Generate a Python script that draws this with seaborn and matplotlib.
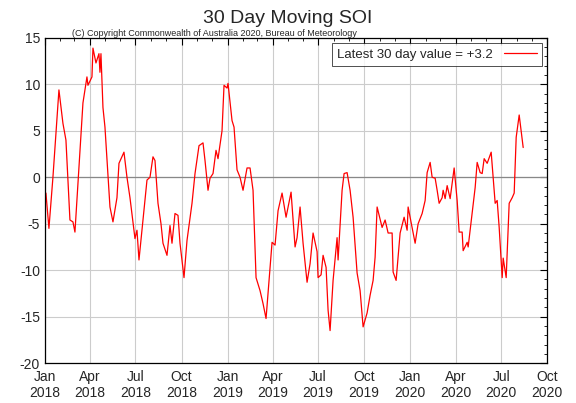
import matplotlib
matplotlib.use("Agg")
import matplotlib.pyplot as plt
import matplotlib.dates as mdates
from matplotlib.ticker import MultipleLocator
import seaborn as sns
import pandas as pd

# day offsets since 2018-01-01 and 30-day SOI values
day_offsets = [2, 8, 16, 28, 36, 42, 50, 56, 60, 70, 76, 84, 86, 94, 96, 102, 108, 110, 112, 116, 120,
               130, 136, 144, 148, 158, 164, 170, 180, 184, 188, 196, 204, 210, 216, 220, 226, 232, 236,
               244, 250, 254, 260, 266, 270, 278, 284, 294, 300, 308,
               316, 320, 326, 330, 336, 342, 346, 354, 358, 364, 366, 374, 378, 384, 390, 396, 404, 410,
               416, 422, 430, 436, 442, 446, 454, 460, 466, 474, 482, 492, 500, 504, 510, 516, 524, 530,
               536, 544, 546, 552, 556, 562, 566, 570, 576, 584, 586, 594, 598, 604, 610, 616, 624, 630,
               636, 644,
               650, 656, 660, 664, 674, 680, 686, 694, 696, 702, 710, 718, 724, 726, 734, 740, 746, 754,
               760, 764, 770, 774, 780, 784, 788, 794, 796, 800, 804, 810, 816, 818, 824, 828, 834, 836,
               844, 846, 854, 860, 864, 870, 874, 878, 884, 886, 892, 896, 900, 904, 908, 914, 916, 922,
               924, 928, 934, 938, 942, 948, 954, 956]
soi_values = [-1.7, -5.5, 0, 9.4, 5.8, 4, -4.6, -4.8, -5.9, 2.9, 8, 10.8, 9.9, 10.8, 13.9, 12.3, 13.3, 11.3, 13.3, 7.5, 5.4,
              -3.2, -4.8, -2.2, 1.5, 2.7, 0, -2.2, -6.6, -5.7, -8.9, -4.6, -0.3, 0, 2.2, 1.8, -2.8, -5, -7.1,
              -8.4, -5.2, -7.1, -3.9, -4.1, -7.1, -10.8, -6.8, -2.8, 0.4, 3.4,
              3.7, 1.8, -1.4, -0.1, 0.4, 2.9, 2, 5, 9.9, 9.6, 10.1, 6.1, 5.4, 0.8, 0, -1.4, 1, 1,
              -1.4, -10.8, -12.2, -13.6, -15.2, -12.5, -7, -7.3, -3.6, -1.7, -4.3, -1.6, -7.5, -6.5, -3.2, -7.1, -11.3, -9.3,
              -6, -8, -10.8, -10.5, -8.4, -9.7, -14.3, -16.5, -11.1, -6.5, -8.9, -1.4, 0.4, 0.5, -1.4, -4.3, -10.3, -12.2,
              -16.1, -14.6,
              -12.7, -11.1, -8.6, -3.2, -5.4, -4.6, -6, -6, -10.2, -11.1, -6, -4.3, -5.7, -3.2, -5.4, -7.1, -5, -3.9,
              -2.5, 0.5, 1.6, 0, -0.1, -1.4, -2.8, -2.2, -1.4, -2.3, -0.9, -2.3, 0.2, 1, -2.5, -5.9, -5.9, -7.9,
              -7, -7.5, -3.9, -1.1, 1.6, 0.5, 0.4, 2, 1.5, 1.8, 2.7, 0, -2.8, -2.5, -5.4, -10.8, -8.7, -10.8,
              -8.2, -2.8, -2.2, -1.7, 4.3, 6.7, 4, 3.2]
tick_dates = ["2018-01-01", "2018-04-01", "2018-07-01", "2018-10-01", "2019-01-01", "2019-04-01",
              "2019-07-01", "2019-10-01", "2020-01-01", "2020-04-01", "2020-07-01", "2020-10-01"]
tick_labels = ["Jan\n2018", "Apr\n2018", "Jul\n2018", "Oct\n2018", "Jan\n2019", "Apr\n2019",
               "Jul\n2019", "Oct\n2019", "Jan\n2020", "Apr\n2020", "Jul\n2020", "Oct\n2020"]

df = pd.DataFrame({"date": pd.Timestamp("2018-01-01") + pd.to_timedelta(day_offsets, unit="D"),
                   "soi": soi_values})

sns.set_style("white")
plt.rcParams['font.family'] = ['Liberation Sans', 'DejaVu Sans']
plt.rcParams['axes.unicode_minus'] = False
fig = plt.figure(figsize=(5.76, 4.03), dpi=100)
ax = fig.add_axes([0.078, 0.099, 0.872, 0.807])

sns.lineplot(data=df, x="date", y="soi", ax=ax, color="red", linewidth=0.9,
             label="Latest 30 day value = +3.2")
ax.axhline(0, color="#888888", linewidth=0.9, zorder=1)

ax.set_xlim(pd.Timestamp("2018-01-01"), pd.Timestamp("2020-10-01"))
ax.set_ylim(-20, 15)
ax.set_xticks(pd.to_datetime(tick_dates))
ax.set_xticklabels(tick_labels, fontsize=10)
ax.xaxis.set_minor_locator(mdates.MonthLocator())
ax.yaxis.set_major_locator(MultipleLocator(5))
ax.yaxis.set_minor_locator(MultipleLocator(1))
ax.tick_params(axis="y", labelsize=10)
ax.tick_params(axis="x", pad=5)
ax.tick_params(which="both", direction="in", top=True, right=True, color="black")
ax.tick_params(which="major", length=5)
ax.tick_params(which="minor", length=2.5)
ax.grid(True, which="major", color="#cccccc", linewidth=0.8)
ax.set_axisbelow(True)
for s in ax.spines.values():
    s.set_color("black")
    s.set_linewidth(0.9)
ax.set_xlabel("")
ax.set_ylabel("")

fig.text(0.5, 0.955, "30 Day Moving SOI", ha="center", va="center", fontsize=14)
fig.text(0.125, 0.918, "(C) Copyright Commonwealth of Australia 2020, Bureau of Meteorology",
         ha="left", va="center", fontsize=6.5)
leg = ax.legend(loc="upper right", fontsize=9.5, frameon=True, fancybox=False,
                borderaxespad=0.4, handlelength=2.5, markerfirst=False)
leg.get_frame().set_edgecolor("black")
leg.get_frame().set_linewidth(0.6)

fig.savefig("out.png", dpi=100)
